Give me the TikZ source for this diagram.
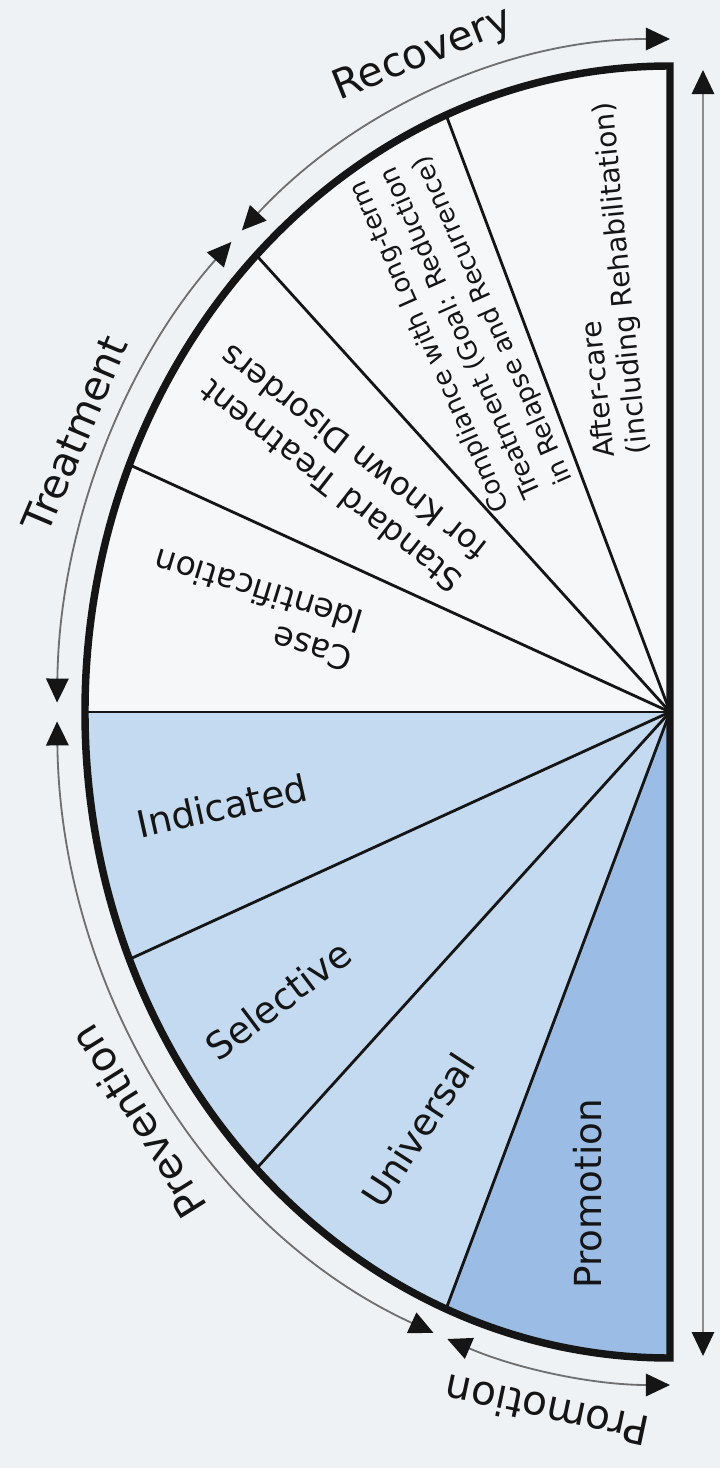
\documentclass[tikz,border=0pt]{standalone}
\usepackage{fontspec}
\setmainfont{DejaVu Sans}
\usepackage{xcolor}
\definecolor{ivpaper}{HTML}{EFF2F5}
\definecolor{ivupper}{HTML}{F6F7F9}
\definecolor{ivblue}{HTML}{C4DAF0}
\definecolor{ivdeep}{HTML}{9BBDE5}
\definecolor{ivgrey}{HTML}{6F6F6F}
\definecolor{ivink}{HTML}{151515}
\usepackage{tikz}
\usetikzlibrary{arrows.meta}
\tikzset{
  ivrim/.style   ={line width=5.3pt, draw=ivink, line join=miter},
  ivspoke/.style ={line width=2pt, draw=ivink},
  ivspan/.style  ={{Triangle[length=0.6cm,width=0.56cm,color=ivink]}-{Triangle[length=0.6cm,width=0.56cm,color=ivink]},
                   line width=1.3pt, draw=ivgrey},
  ivouter/.style ={font=\fontsize{29}{34}\selectfont, text=ivink, inner sep=0pt},
  ivinner/.style ={font=\fontsize{26.5}{31}\selectfont, text=ivink, inner sep=0pt},
  ivnote/.style  ={text=ivink, inner sep=0pt, align=left, anchor=west},
}

\begin{document}
\begin{tikzpicture}[x=0.025cm, y=0.025cm]
  \useasboundingbox[fill=ivpaper] (-670,-756) rectangle (50,712);
  \coordinate (O) at (0,0);
  \fill[ivupper] (O) -- (90:585 and 646) arc[start angle=90, end angle=180, x radius=585, y radius=646] -- cycle;
  \fill[ivblue] (O) -- (180:585 and 646) arc[start angle=180, end angle=247.5, x radius=585, y radius=646] -- cycle;
  \fill[ivdeep] (O) -- (247.5:585 and 646) arc[start angle=247.5, end angle=270, x radius=585, y radius=646] -- cycle;
  \foreach \a in {112.5,135,157.5,180,202.5,225,247.5}{
    \draw[ivspoke] (O) -- (\a:585 and 646);}
  \draw[ivrim] (90:585 and 646) arc[start angle=90, end angle=270, x radius=585, y radius=646] -- cycle;
  % spans round the rim
  \draw[ivspan] (134.3:613 and 673) arc[start angle=134.3, end angle=90, x radius=613, y radius=673];
  \draw[ivspan] (179.2:613 and 673) arc[start angle=179.2, end angle=135.7, x radius=613, y radius=673];
  \draw[ivspan] (180.8:613 and 673) arc[start angle=180.8, end angle=247.3, x radius=613, y radius=673];
  \draw[ivspan] (248.7:613 and 673) arc[start angle=248.7, end angle=270, x radius=613, y radius=673];
  \coordinate (top) at (33,642);
  \coordinate (bottom) at (33,-644);
  \draw[ivspan, draw=ivgrey!80] (top) -- (bottom);
  % outer labels
  \node[ivouter, rotate=22]  (recovery)   at (-247,657)  {Recovery};
  \node[ivouter, rotate=67]  (treatment)  at (-595,278)  {Treatment};
  \node[ivouter, rotate=122] (prevention) at (-532,-410) {Prevention};
  \node[ivouter, rotate=168] (promotion)  at (-123,-699) {Promotion};
  % sector labels
  \node[ivinner, rotate=12.5] (indicated) at (-448,-94)  {Indicated};
  \node[ivinner, rotate=37]   (selective) at (-392,-288) {Selective};
  \node[ivinner, rotate=57]   (universal) at (-252,-418) {Universal};
  \node[ivinner, rotate=90]   (promo)     at (-82,-482)  {Promotion};
  \node[ivnote, rotate=163, font=\fontsize{23.5}{28}\selectfont] (caseid) at (-313,70)
    {Case\\Identification};
  \node[ivnote, rotate=142, font=\fontsize{23}{28.5}\selectfont] (standard) at (-200,142)
    {Standard Treatment\\for Known Disorders};
  \node[ivnote, rotate=114, font=\fontsize{18.5}{24.5}\selectfont] (compliance) at (-135,215)
    {Compliance with Long-term\\Treatment (Goal: Reduction\\in Relapse and Recurrence)};
  \node[ivnote, rotate=95.6, font=\fontsize{20}{23.5}\selectfont] (aftercare) at (-47,256)
    {After-care\\(including Rehabilitation)};
\end{tikzpicture}
\end{document}
